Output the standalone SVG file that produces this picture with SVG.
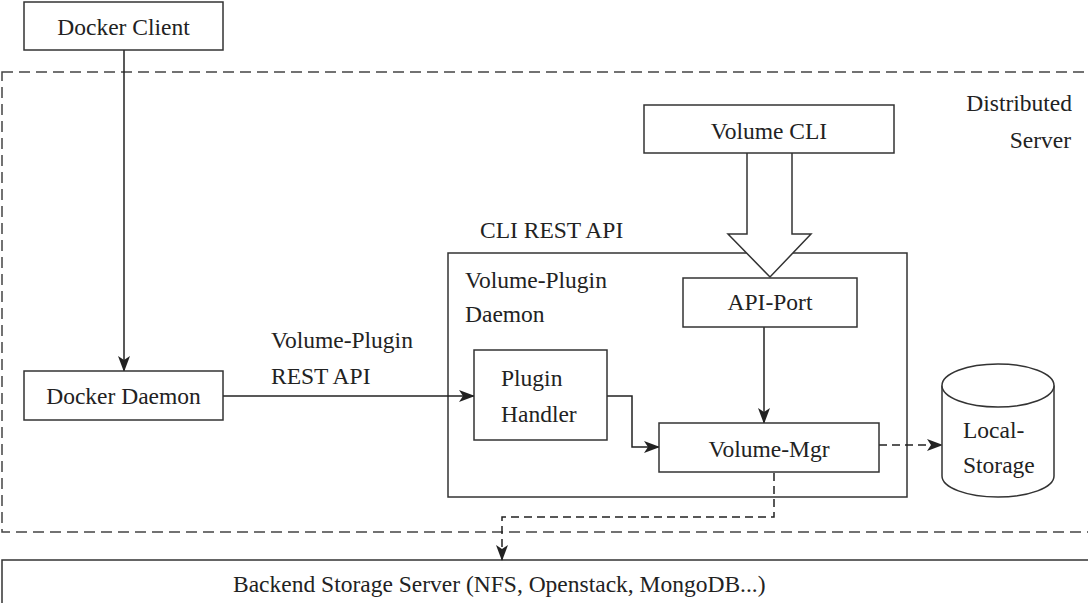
<svg xmlns="http://www.w3.org/2000/svg" width="1088" height="603" viewBox="0 0 1088 603">
<defs>
<style>
.box{fill:#fff;stroke:#333;stroke-width:1.5}
.frame{fill:none;stroke:#333;stroke-width:1.5}
.dframe{fill:none;stroke:#444;stroke-width:1.5;stroke-dasharray:11 6}
.ln{fill:none;stroke:#222;stroke-width:1.5}
.dl{fill:none;stroke:#222;stroke-width:1.5;stroke-dasharray:8 5}
.t{font-family:'Liberation Serif','DejaVu Serif',serif;font-size:23.5px;fill:#222}
.c{text-anchor:middle}
.e{text-anchor:end}
</style>
<marker id="ah" viewBox="0 0 16 12" refX="15" refY="6" markerWidth="16" markerHeight="12" markerUnits="userSpaceOnUse" orient="auto">
<path d="M0,0 L16,6 L0,12 L4,6 z" fill="#222"/>
</marker>
</defs>
<rect width="1088" height="603" fill="#fff"/>
<g class="t" font-family="Liberation Serif, DejaVu Serif, serif">
<g id="distributed-server">
<rect class="dframe" x="2" y="72" width="1100" height="460"/>
<text class="e" x="1072" y="111">Distributed</text>
<text class="e" x="1071" y="148">Server</text>
</g>
<g id="backend-storage">
<rect class="frame" x="2" y="560" width="1100" height="60"/>
<text x="233" y="592">Backend Storage Server (NFS, Openstack, MongoDB...)</text>
</g>
<g id="volume-plugin-daemon">
<rect class="frame" x="448" y="253" width="459" height="244"/>
<text x="465" y="288">Volume-Plugin</text>
<text x="465" y="322">Daemon</text>
</g>
<g id="cli-rest-api-label">
<text x="480" y="238">CLI REST API</text>
</g>
<g id="connectors">
<line class="ln" x1="124" y1="50" x2="124" y2="371" marker-end="url(#ah)"/>
<line class="ln" x1="223" y1="396" x2="474" y2="396" marker-end="url(#ah)"/>
<polyline class="ln" points="607,396 632,396 632,447 659,447" marker-end="url(#ah)"/>
<line class="ln" x1="764" y1="327" x2="764" y2="423" marker-end="url(#ah)"/>
<line class="dl" x1="879" y1="445" x2="942" y2="445" marker-end="url(#ah)"/>
<polyline class="dl" points="774,473 774,517 502,517 502,560" marker-end="url(#ah)"/>
<path class="box" d="M747,153 L747,234 L728,234 L770,277 L811,234 L792,234 L792,153"/>
<text x="271" y="348">Volume-Plugin</text>
<text x="271" y="384">REST API</text>
</g>
<g id="docker-client">
<rect class="box" x="24" y="2" width="199" height="48"/>
<text class="c" x="123.5" y="35">Docker Client</text>
</g>
<g id="docker-daemon">
<rect class="box" x="24" y="371" width="199" height="49"/>
<text class="c" x="123.5" y="404">Docker Daemon</text>
</g>
<g id="volume-cli">
<rect class="box" x="644" y="105" width="250" height="48"/>
<text class="c" x="769" y="139">Volume CLI</text>
</g>
<g id="api-port">
<rect class="box" x="683" y="278" width="174" height="49"/>
<text class="c" x="770" y="310">API-Port</text>
</g>
<g id="plugin-handler">
<rect class="box" x="474" y="350" width="133" height="90"/>
<text x="501" y="386">Plugin</text>
<text x="501" y="422">Handler</text>
</g>
<g id="volume-mgr">
<rect class="box" x="659" y="423" width="220" height="49"/>
<text class="c" x="769" y="457">Volume-Mgr</text>
</g>
<g id="local-storage">
<path class="box" d="M942,385.5 L942,476 A56,21 0 0 0 1054,476 L1054,385.5"/>
<ellipse class="box" cx="998" cy="385.5" rx="56" ry="21.5"/>
<text x="963" y="438">Local-</text>
<text x="963" y="473">Storage</text>
</g>
</g>
</svg>
